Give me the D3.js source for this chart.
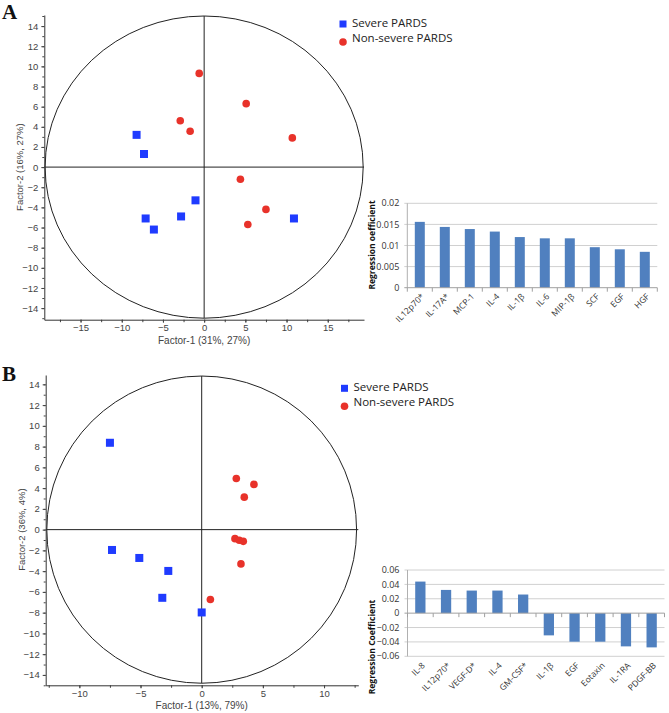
<!DOCTYPE html>
<html><head><meta charset="utf-8">
<script src="https://cdn.jsdelivr.net/npm/d3@7"></script>
<style>
body{margin:0;background:#fff;}
svg{display:block;}
</style></head><body>
<svg id="c" width="669" height="713"></svg>
<script>
// ---------- DATA ----------
const groupNames = ["Severe PARDS", "Non-severe PARDS"];

// Panel A scatter
const aSevere = [[-8.2,3.2],[-7.3,1.3],[-1.05,-3.3],[-7.1,-5.1],[-6.1,-6.2],[-2.8,-4.9],[10.9,-5.1]];
const aNonSevere = [[-0.6,9.3],[5.1,6.3],[-2.9,4.6],[-1.7,3.56],[10.7,2.9],[4.4,-1.2],[7.5,-4.2],[5.3,-5.7]];
const aXTicks = [-15,-10,-5,0,5,10,15];
const aYTicks = [-14,-12,-10,-8,-6,-4,-2,0,2,4,6,8,10,12,14];
const aXLabel = "Factor-1 (31%, 27%)";
const aYLabel = "Factor-2 (16%, 27%)";

// Panel B scatter
const bSevere = [[-7.5,8.37],[-7.33,-1.96],[-5.1,-2.73],[-2.73,-3.98],[-3.22,-6.57],[0,-7.98]];
const bNonSevere = [[2.83,4.93],[4.27,4.36],[3.48,3.13],[2.72,-0.87],[3.07,-1.03],[3.4,-1.13],[3.21,-3.3],[0.71,-6.73]];
const bXTicks = [-10,-5,0,5,10];
const bYTicks = [-14,-12,-10,-8,-6,-4,-2,0,2,4,6,8,10,12,14];
const bXLabel = "Factor-1 (13%, 79%)";
const bYLabel = "Factor-2 (36%, 4%)";

// Panel A bars
const barALabels = ["IL12p70*","IL-17A*","MCP-1","IL-4","IL-1\u03B2","IL-6","MIP-1\u03B2","SCF","EGF","HGF"];
const barAValues = [0.0156,0.0144,0.0139,0.0133,0.0120,0.0117,0.0117,0.0096,0.0091,0.0085];
const barATicks = [0,0.005,0.01,0.015,0.02];
const barATitle = "Regression oefficient";

// Panel B bars
const barBLabels = ["IL-8","IL12p70*","VEGF-D*","IL-4","GM-CSF*","IL-1\u03B2","EGF","Eotaxin","IL-1RA","PDGF-BB"];
const barBValues = [0.0439,0.0323,0.0314,0.0314,0.0259,-0.0309,-0.0397,-0.0397,-0.0462,-0.0476];
const barBTicks = [-0.06,-0.04,-0.02,0,0.02,0.04,0.06];
const barBTitle = "Regression Coefficient";

// ---------- DRAW ----------
const svg = d3.select("#c");
const BLUE = "#1f3bff", RED = "#e8322a", BAR = "#5080bf";
const SANS = "Liberation Sans, Arial, sans-serif";

function scatter(o){
  const g = svg.append("g");
  const x = d3.scaleLinear().domain(o.xDom).range(o.xRange);
  const y = d3.scaleLinear().domain(o.yDom).range(o.yRange);
  g.append("ellipse").attr("cx", x(0)).attr("cy", y(0))
    .attr("rx", x(o.rx) - x(0)).attr("ry", y(0) - y(o.ry))
    .attr("fill","none").attr("stroke","#222").attr("stroke-width",1);
  g.append("line").attr("x1", x(0)).attr("x2", x(0)).attr("y1", y(o.ry)).attr("y2", y(-o.ry))
    .attr("stroke","#222").attr("stroke-width",1);
  g.append("line").attr("x1", o.xRange[0]).attr("x2", o.xRange[1]).attr("y1", y(0)).attr("y2", y(0))
    .attr("stroke","#222").attr("stroke-width",1);
  const xMinor = d3.range(Math.ceil(o.xDom[0]/2.5)*2.5, o.xDom[1], 2.5);
  const yMinor = d3.range(Math.ceil(o.yDom[0]), o.yDom[1], 1);
  g.append("g").attr("transform",`translate(0,${o.yRange[0]})`)
    .call(d3.axisBottom(x).tickValues(xMinor).tickSize(2.5).tickFormat("").tickSizeOuter(0))
    .call(a=>{a.select(".domain").remove(); a.selectAll("line").attr("stroke","#444");});
  g.append("g").attr("transform",`translate(${o.xRange[0]},0)`)
    .call(d3.axisLeft(y).tickValues(yMinor).tickSize(2).tickFormat("").tickSizeOuter(0))
    .call(a=>{a.select(".domain").remove(); a.selectAll("line").attr("stroke","#444");});
  const ax = g.append("g").attr("transform",`translate(0,${o.yRange[0]})`)
    .call(d3.axisBottom(x).tickValues(o.xTicks).tickSize(3).tickSizeOuter(0).tickPadding(2));
  const ay = g.append("g").attr("transform",`translate(${o.xRange[0]},0)`)
    .call(d3.axisLeft(y).tickValues(o.yTicks).tickSize(3).tickSizeOuter(0).tickPadding(3));
  [ax,ay].forEach(a=>{
    a.select(".domain").attr("stroke","#333");
    a.selectAll("line").attr("stroke","#444");
    a.selectAll("text").attr("fill","#444").style("font-family",SANS).style("font-size","9.5px");
  });
  g.append("text").attr("x", x(0)).attr("y", o.yRange[0] + 24).attr("text-anchor","middle")
    .style("font-family",SANS).style("font-size","10px").attr("fill","#444").text(o.xLabel);
  g.append("text").attr("transform",`translate(${o.xRange[0]-21},${y(0)}) rotate(-90)`).attr("text-anchor","middle")
    .style("font-family",SANS).style("font-size","9.5px").attr("fill","#444").text(o.yLabel);
  g.selectAll(".sq").data(o.severe).join("rect")
    .attr("x", d=>x(d[0])-4).attr("y", d=>y(d[1])-4).attr("width",8).attr("height",8).attr("fill",BLUE);
  g.selectAll(".ci").data(o.non).join("circle")
    .attr("cx", d=>x(d[0])).attr("cy", d=>y(d[1])).attr("r",3.8).attr("fill",RED);
  const lg = svg.append("g").attr("transform",`translate(${o.legend[0]},${o.legend[1]})`);
  lg.append("rect").attr("x",-3.5).attr("y",-3.5).attr("width",7).attr("height",7).attr("fill",BLUE);
  lg.append("circle").attr("cx",0).attr("cy",18).attr("r",3.8).attr("fill",RED);
  lg.append("text").attr("x",9).attr("y",-1.5).attr("dy","0.35em").text(groupNames[0])
    .style("font-family","Open Sans, sans-serif").style("font-size","11.5px").attr("fill","#222");
  lg.append("text").attr("x",9).attr("y",13.5).attr("dy","0.35em").text(groupNames[1])
    .style("font-family","Open Sans, sans-serif").style("font-size","11.5px").attr("fill","#222");
  svg.append("text").attr("x",o.letter[0]).attr("y",o.letter[1]).text(o.letterText)
    .style("font-family","Liberation Serif, Times New Roman, serif").style("font-weight","bold").style("font-size","21px").attr("fill","#111");
}

scatter({xDom:[-19.4,19.4], xRange:[44.3,364], yDom:[-15.15,15.1], yRange:[319.7,15],
  rx:19.3, ry:15, xTicks:aXTicks, yTicks:aYTicks, xLabel:aXLabel, yLabel:aYLabel,
  severe:aSevere, non:aNonSevere, legend:[343,24], letter:[2,19], letterText:"A"});
scatter({xDom:[-12.75,12.8], xRange:[45.7,358.3], yDom:[-15.0,14.9], yRange:[685.3,375],
  rx:12.66, ry:14.8, xTicks:bXTicks, yTicks:bYTicks, xLabel:bXLabel, yLabel:bYLabel,
  severe:bSevere, non:bNonSevere, legend:[344.5,388.3], letter:[2,381], letterText:"B"});

function bars(o){
  const g = svg.append("g");
  const x = d3.scaleBand().domain(o.labels).range(o.xRange).paddingInner(0.6).paddingOuter(0.3);
  const xb = d3.scaleBand().domain(o.labels).range(o.xRange);
  const y = d3.scaleLinear().domain(o.yDom).range(o.yRange);
  const font = "Open Sans, Liberation Sans, sans-serif";
  g.selectAll(".gl").data(o.ticks.filter(t=>t!==0)).join("line")
    .attr("x1", o.xRange[0]-3).attr("x2", o.xRange[1]).attr("y1", d=>y(d)).attr("y2", d=>y(d))
    .attr("stroke","#d0d0d0").attr("stroke-width",1);
  g.append("line").attr("x1",o.xRange[0]).attr("x2",o.xRange[0]).attr("y1",y(o.yDom[1])).attr("y2",y(o.yDom[0]))
    .attr("stroke","#b0b0b0");
  g.selectAll(".b").data(o.values).join("rect")
    .attr("x",(d,i)=>x(o.labels[i])).attr("width",x.bandwidth())
    .attr("y",d=>y(Math.max(0,d))).attr("height",d=>Math.abs(y(d)-y(0)))
    .attr("fill",BAR);
  g.append("line").attr("x1",o.xRange[0]-3).attr("x2",o.xRange[1]).attr("y1",y(0)).attr("y2",y(0))
    .attr("stroke","#a0a0a0");
  const bounds = o.labels.map(l=>xb(l)).concat([o.xRange[1]]);
  g.selectAll(".tk").data(bounds).join("line")
    .attr("x1",d=>d).attr("x2",d=>d).attr("y1",y(0)).attr("y2",y(0)+4).attr("stroke","#a0a0a0");
  g.selectAll(".yt").data(o.ticks).join("text")
    .attr("x",o.xRange[0]-8).attr("y",d=>y(d)).attr("dy","0.35em").attr("text-anchor","end")
    .style("font-family",font).style("font-size","9px").attr("fill","#333")
    .text(d=>d3.format("")(+d.toFixed(3)));
  g.selectAll(".xl").data(o.labels).join("text")
    .attr("transform",d=>`translate(${xb(d)+xb.bandwidth()/2+3},${o.labelY}) rotate(-45)`)
    .attr("text-anchor","end").attr("dy","0.35em")
    .style("font-family",font).style("font-size","8.5px").attr("fill","#333").text(d=>d);
  g.append("text").attr("transform",`translate(${o.titleX},${o.titleY}) rotate(-90)`).attr("text-anchor","middle")
    .style("font-family",font).style("font-weight","bold").style("font-size","8.5px").attr("fill","#111").text(o.title);
}

bars({labels:barALabels, values:barAValues, ticks:barATicks, yDom:[0,0.02], yRange:[287.7,203.3],
  xRange:[407.3,657.3], labelY:295, title:barATitle, titleX:375, titleY:245});
bars({labels:barBLabels, values:barBValues, ticks:barBTicks, yDom:[-0.06,0.06], yRange:[656.3,570],
  xRange:[407.5,664.5], labelY:664, title:barBTitle, titleX:375, titleY:647});
</script></body></html>
